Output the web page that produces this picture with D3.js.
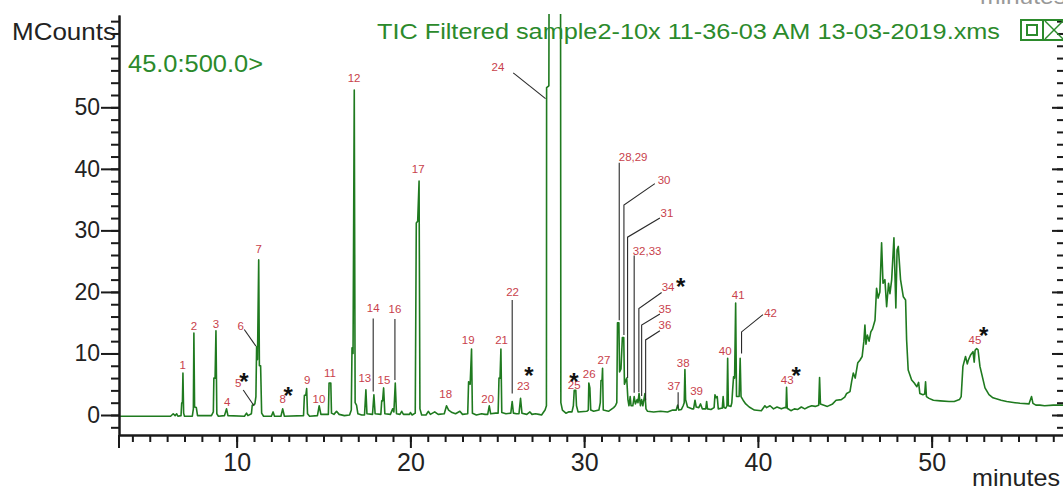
<!DOCTYPE html>
<html>
<head>
<meta charset="utf-8">
<script src="https://d3js.org/d3.v7.min.js"></script>
<style>
  body { margin: 0; background: #fff; }
  svg { display: block; }
  .axis path, .axis line { stroke: #1a1a1a; stroke-width: 2; }
  .axis text { font-family: "Liberation Sans", Arial, sans-serif; fill: #222; }
  .peak-label { font-family: "Liberation Sans", Arial, sans-serif; font-size: 11.5px; fill: #c8414b; text-anchor: middle; }
  .star { font-family: "Liberation Sans", Arial, sans-serif; font-size: 24px; font-weight: bold; fill: #111; text-anchor: middle; }
</style>
</head>
<body>
<div id="chart"></div>
<script>
/**
 * TIC chromatogram, sample2-10x
 */

// retention time (min), MCounts
var trace = [
	[3.23,-0.2],[6.2,-0.2],[6.35,0.2],[6.46,-0.1],[6.55,0.2],[6.62,-0.2],
	[6.8,-0.1],[6.84,2],[6.88,2],[6.91,6.8],[6.95,0.3],[7.0,-0.2],
	[7.45,-0.2],[7.51,1],[7.54,13.3],[7.58,1.3],[7.68,1.2],[7.75,-0.1],
	[8.55,-0.1],[8.66,0.5],[8.69,6],[8.76,6],[8.81,13.7],[8.86,0.2],[8.95,-0.2],
	[9.3,-0.1],[9.42,1.0],[9.5,-0.1],
	[10.45,-0.2],[10.57,0.3],[10.65,-0.1],
	[10.85,0.2],[10.9,1.6],[11.05,1.8],[11.11,3],[11.15,11.1],[11.2,9],[11.27,25.2],[11.31,8],[11.38,8],[11.44,0.3],[11.55,-0.2],
	[12.0,-0.2],[12.1,0.5],[12.18,-0.2],
	[12.55,-0.2],[12.65,1.0],[12.75,-0.2],
	[13.85,-0.1],[13.9,3.2],[13.98,3.2],[14.03,4.3],[14.08,0.2],[14.2,-0.2],
	[14.65,-0.1],[14.75,1.5],[14.85,0.1],
	[15.28,0.1],[15.32,5.2],[15.42,5.2],[15.46,0.3],[15.6,0.1],[15.75,0.6],[15.9,0.1],[16.2,-0.1],
	[16.5,0],[16.6,0.8],[16.64,10.9],[16.7,10],[16.77,52.8],[16.82,2],[16.9,1.6],[16.98,0.2],[17.2,0],
	[17.36,0],[17.44,4.1],[17.5,0.2],
	[17.82,0.1],[17.9,3.3],[17.97,0.2],
	[18.3,0.1],[18.35,2.3],[18.4,2.3],[18.46,4.4],[18.53,0.2],
	[18.85,0.1],[18.98,1.0],[19.05,0.5],[19.13,5.2],[19.2,0.2],
	[19.4,0.1],[19.5,0.6],[19.6,0.1],[19.95,0.1],[20.0,0.4],[20.1,0],
	[20.28,0.3],[20.34,31.2],[20.42,31.5],[20.5,38],[20.55,1],[20.65,0],
	[20.9,0],[21.03,0.6],[21.15,0.1],[21.4,0.5],[21.6,0.1],[21.95,0.2],[22.08,1.5],[22.2,0.8],[22.4,0.4],[22.6,0.2],[22.85,0.6],[23.0,0.1],[23.3,0.2],
	[23.35,5.4],[23.44,5.0],[23.52,10.7],[23.57,0.3],[23.8,0.0],[24.1,0.2],[24.3,0.1],
	[24.45,0.1],[24.54,1.5],[24.62,0.2],[24.9,0.3],
	[25.05,0.3],[25.1,6],[25.16,6],[25.21,10.7],[25.26,0.4],[25.5,0.2],
	[25.78,0.3],[25.86,2.2],[25.93,0.3],[26.1,0.2],
	[26.25,0.2],[26.34,2.7],[26.42,0.3],[26.7,0.1],[26.88,0.5],[27.0,0.1],[27.2,0.2],[27.4,0.1],
	[27.55,0],[27.75,0.8],[27.83,1.5],[27.84,53.2],[27.97,53.5],[27.99,80],[28.64,80],[28.66,2],[28.75,0.8],[28.95,0.3],[29.1,0.5],
	[29.3,0.5],[29.38,1.5],[29.43,4],[29.52,4],[29.56,1.5],[29.65,0.5],
	[30.15,0.6],[30.24,0.8],[30.27,5.2],[30.33,4.4],[30.38,0.8],[30.55,0.6],
	[30.85,0.8],[30.93,2],[30.97,5.6],[31.03,5.6],[31.06,7.6],[31.1,0.8],[31.4,0.6],[31.7,1.2],
	[31.8,1.5],[31.88,2],[31.92,15],[32.0,15],[32.04,7],[32.12,7.5],[32.2,12.6],[32.28,12.6],[32.32,5],[32.38,5.5],[32.45,6],[32.52,2.5],[32.58,1.5],[32.65,3],[32.7,1.5],[32.8,1.5],[32.88,3],[32.95,1.8],[33.05,2.5],[33.1,2],[33.16,3.5],[33.24,1.5],[33.31,2.5],[33.38,1.5],[33.5,3.5],[33.56,1],[33.65,0.6],[34.0,0.5],[34.4,0.6],[34.8,0.5],[35.1,0.8],
	[35.3,0.8],[35.38,1.6],[35.45,0.8],
	[35.6,0.9],[35.7,1.5],[35.76,2],[35.8,7.4],[35.84,2.5],[35.95,1.3],[36.2,1.0],
	[36.3,1.0],[36.38,2.4],[36.45,1.3],[36.6,1.2],[36.7,1.8],[36.8,1.0],
	[37.0,1.0],[37.05,2.2],[37.1,1.0],[37.3,0.9],[37.48,1.2],[37.53,3.3],[37.6,2.8],[37.66,3.0],[37.72,1.0],[37.9,1.1],[37.95,1.1],[38.0,3],[38.05,1.2],
	[38.15,1.1],[38.22,1.5],[38.26,9.2],[38.3,1.5],[38.45,1.4],
	[38.5,2],[38.55,4.2],[38.6,6.2],[38.66,6],[38.72,18.2],[38.77,3],
	[38.92,3],[38.98,9.2],[39.03,3],[39.15,2.4],[39.3,1.8],[39.5,1.3],[39.8,0.8],[40.2,0.7],[40.4,1.5],[40.5,1.2],[40.7,1.5],[40.9,1.0],[41.1,1.3],[41.35,1.0],[41.55,1.2],
	[41.62,1.2],[41.65,4.5],[41.69,1.1],[41.9,0.7],[42.1,1.0],[42.3,0.9],[42.5,1.3],[42.7,1.0],[42.9,1.3],[43.1,1.5],[43.3,1.4],[43.5,1.6],
	[43.55,6.1],[43.6,1.8],[43.8,1.6],[44.0,1.4],[44.3,1.8],[44.5,2.4],
	[44.8,2.5],[45.0,2.9],[45.11,3.5],[45.3,3.8],[45.4,5.5],[45.49,6.8],[45.6,6],[45.75,8.5],[45.87,8.9],[46.0,9.5],[46.1,12],[46.16,14.6],[46.22,11.5],[46.3,13],[46.4,12],[46.5,13.5],[46.6,14],[46.74,15.4],[46.83,20.6],[46.92,19],[47.02,20],[47.12,28],[47.2,21.4],[47.31,22],[47.41,17.6],[47.52,21.4],[47.6,19.7],[47.7,22],[47.83,28.8],[47.94,17.4],[48.01,26.8],[48.08,27.4],[48.21,22],[48.37,19.2],[48.5,18.7],[48.56,12.2],[48.65,7.3],[48.85,5.7],[49.0,5.2],[49.15,4.6],[49.25,5.3],[49.32,3.5],[49.5,3.3],[49.6,3.4],[49.65,5.4],[49.7,3],[49.85,2.7],
	[50.1,2.4],[50.5,2.3],[51.0,2.2],[51.3,2.2],[51.6,2.5],[51.7,3],[51.8,7.9],[51.95,9.5],[52.05,8.3],[52.11,8.9],[52.25,9.8],[52.38,10.3],[52.45,8.6],[52.5,10.5],[52.59,10.8],[52.67,10.6],[52.78,7.9],[53.07,4.4],[53.3,3.3],[53.53,2.8],[54.0,2.4],[54.32,2.2],[54.8,2.0],[55.08,1.9],[55.6,1.8],[55.75,3.0],[55.83,1.9],[56.0,1.6],[56.23,1.6],[56.5,1.5],[57.0,1.6],[57.56,1.6]
];

var labelText = ["1","2","3","4","5","6","7","8","9","10","11","12","13","14","15","16","17","18","19","20","21","22","23","24","25","26","27","28,29","30","31","32,33","34","35","36","37","38","39","40","41","42","43","45"];
var labelT    = [6.89,7.54,8.81,9.46,10.09,10.23,11.27,12.65,14.06,14.74,15.37,16.76,17.38,17.86,18.48,19.11,20.45,22.03,23.33,24.45,25.25,25.88,26.5,25.04,29.43,30.29,31.14,32.82,34.6,34.77,33.62,34.83,34.65,34.65,35.17,35.7,36.47,38.12,38.87,40.73,41.69,52.49];
var labelV    = [7.5,13.8,14.2,1.46,4.47,13.8,26.3,1.9,5.1,2.0,6.2,54.1,5.3,16.7,5.1,16.5,39.4,2.76,11.5,2.0,11.6,19.3,4.07,55.9,4.3,6.0,8.3,41.3,37.5,32.2,26.0,20.2,16.6,13.9,4.07,7.8,3.25,9.76,18.9,15.9,5.0,11.5];

var leaders = [
	[[10.38,4.07],[11.01,1.46]],
	[[10.44,13.9],[11.11,11.2]],
	[[17.86,15.7],[17.86,3.8]],
	[[19.11,15.6],[19.11,5.7]],
	[[25.86,18.7],[25.86,3.5]],
	[[25.92,55.6],[27.78,51.4]],
	[[32.02,41],[32.02,15.4]],
	[[34.07,37.6],[32.29,34.1],[32.29,13]],
	[[34.36,32.0],[32.5,28.9],[32.5,6.0]],
	[[32.88,25.9],[32.88,3.6]],
	[[34.46,19.9],[33.15,17.3],[33.15,3.7]],
	[[34.36,16.4],[33.31,14.6],[33.31,3.1]],
	[[34.36,13.7],[33.54,12.2],[33.54,2.4]],
	[[35.41,3.7],[35.41,1.1]],
	[[40.29,16.3],[39.06,13.5],[39.06,10.0]]
];

var starT = [10.42, 12.97, 26.82, 29.41, 35.55, 42.2, 53.0];
var starV = [6.34, 4.07, 7.3, 6.34, 21.7, 7.3, 13.8];

var xMajor = [10, 20, 30, 40, 50];
var xMinor = d3.range(4, 58);
var yMajor = [0, 10, 20, 30, 40, 50];
var yMinor = d3.range(-2, 65, 2);

var width = 1063, height = 492;
var plotL = 119, plotR = 1063, plotT = 15, plotB = 435;

var svg = d3.select('#chart').append('svg')
	.attr('width', width)
	.attr('height', height);

svg.append('rect').attr('width', width).attr('height', height).attr('fill', '#fff');

var x = d3.scaleLinear().domain([3.23, 57.56]).range([plotL, plotR]);
var y = d3.scaleLinear().domain([-3.25, 65]).range([plotB, plotT]);

svg.append('clipPath').attr('id', 'plot-clip')
	.append('rect')
	.attr('x', plotL).attr('y', plotT - 1)
	.attr('width', plotR - plotL).attr('height', plotB - plotT);

// trace
var line = d3.line()
	.x(function(d){ return x(d[0]); })
	.y(function(d){ return y(d[1]); });

svg.append('path')
	.datum(trace)
	.attr('clip-path', 'url(#plot-clip)')
	.attr('d', line)
	.attr('fill', 'none')
	.attr('stroke', '#1f7a1f')
	.attr('stroke-width', 1.6)
	.attr('stroke-linejoin', 'round');

// axes
svg.append('g').attr('class', 'axis')
	.attr('transform', 'translate(0,' + plotB + ')')
	.call(d3.axisBottom(x).tickValues(xMinor).tickSize(7).tickSizeOuter(0).tickFormat(''));

svg.append('g').attr('class', 'axis')
	.attr('transform', 'translate(0,' + plotB + ')')
	.call(d3.axisBottom(x).tickValues(xMajor).tickSize(13).tickSizeOuter(0).tickPadding(5))
	.selectAll('text').style('font-size', '25px');

svg.append('g').attr('class', 'axis')
	.attr('transform', 'translate(' + plotL + ',0)')
	.call(d3.axisLeft(y).tickValues(yMinor).tickSize(8).tickSizeOuter(0).tickFormat(''));

svg.append('g').attr('class', 'axis')
	.attr('transform', 'translate(' + plotL + ',0)')
	.call(d3.axisLeft(y).tickValues(yMajor).tickSize(18).tickSizeOuter(0).tickPadding(1))
	.selectAll('text').style('font-size', '23px');

svg.append('line')
	.attr('x1', plotL).attr('x2', plotL)
	.attr('y1', plotB).attr('y2', plotB + 13)
	.attr('stroke', '#1a1a1a').attr('stroke-width', 2);

// right side ticks
var rightMinor = svg.append('g').attr('class', 'axis')
	.attr('transform', 'translate(' + plotR + ',0)')
	.call(d3.axisLeft(y).tickValues(yMinor).tickSize(6).tickFormat(''));
var rightMajor = svg.append('g').attr('class', 'axis')
	.attr('transform', 'translate(' + plotR + ',0)')
	.call(d3.axisLeft(y).tickValues(yMajor).tickSize(11).tickFormat(''));
rightMinor.select('.domain').remove();
rightMajor.select('.domain').remove();

// leaders
svg.selectAll('.leader')
	.data(leaders)
	.enter().append('path')
	.attr('class', 'leader')
	.attr('d', line)
	.attr('fill', 'none')
	.attr('stroke', '#2a2a2a')
	.attr('stroke-width', 1.1);

// peak labels
svg.selectAll('.peak-label')
	.data(labelText)
	.enter().append('text')
	.attr('class', 'peak-label')
	.attr('x', function(d, i){ return x(labelT[i]); })
	.attr('y', function(d, i){ return y(labelV[i]); })
	.text(function(d){ return d; });

svg.selectAll('.star')
	.data(starT)
	.enter().append('text')
	.attr('class', 'star')
	.attr('x', function(d){ return x(d); })
	.attr('y', function(d, i){ return y(starV[i]) + 14; })
	.text('*');

// texts
function addText(str, px, py, size, color, len, anchor) {
	var t = svg.append('text')
		.attr('x', px).attr('y', py)
		.style('font-family', '"Liberation Sans", Arial, sans-serif')
		.style('font-size', size + 'px')
		.attr('fill', color)
		.attr('text-anchor', anchor || 'start')
		.text(str);
	if (len) t.attr('textLength', len).attr('lengthAdjust', 'spacingAndGlyphs');
	return t;
}

addText('MCounts', 12, 40, 23, '#222', 104);
addText('45.0:500.0>', 128, 72, 23, '#2b8a2b', 135);
addText('TIC Filtered sample2-10x 11-36-03 AM 13-03-2019.xms', 377, 39, 22, '#2b8a2b', 623);
addText('minutes', 1060, 486, 24, '#222', 88, 'end');
addText('minutes', 1066, 4, 22, '#999', 86, 'end');

// window buttons
var box = svg.append('g').attr('fill', 'none').attr('stroke', '#2b8a2b').attr('stroke-width', 2);
box.append('rect').attr('x', 1021).attr('y', 20).attr('width', 50).attr('height', 20);
box.append('rect').attr('x', 1027).attr('y', 25).attr('width', 10).attr('height', 10);
box.append('line').attr('x1', 1043).attr('x2', 1043).attr('y1', 20).attr('y2', 40);
box.append('line').attr('x1', 1045).attr('x2', 1063).attr('y1', 21).attr('y2', 39).attr('stroke-width', 1.5);
box.append('line').attr('x1', 1045).attr('x2', 1063).attr('y1', 39).attr('y2', 21).attr('stroke-width', 1.5);
</script>
</body>
</html>
